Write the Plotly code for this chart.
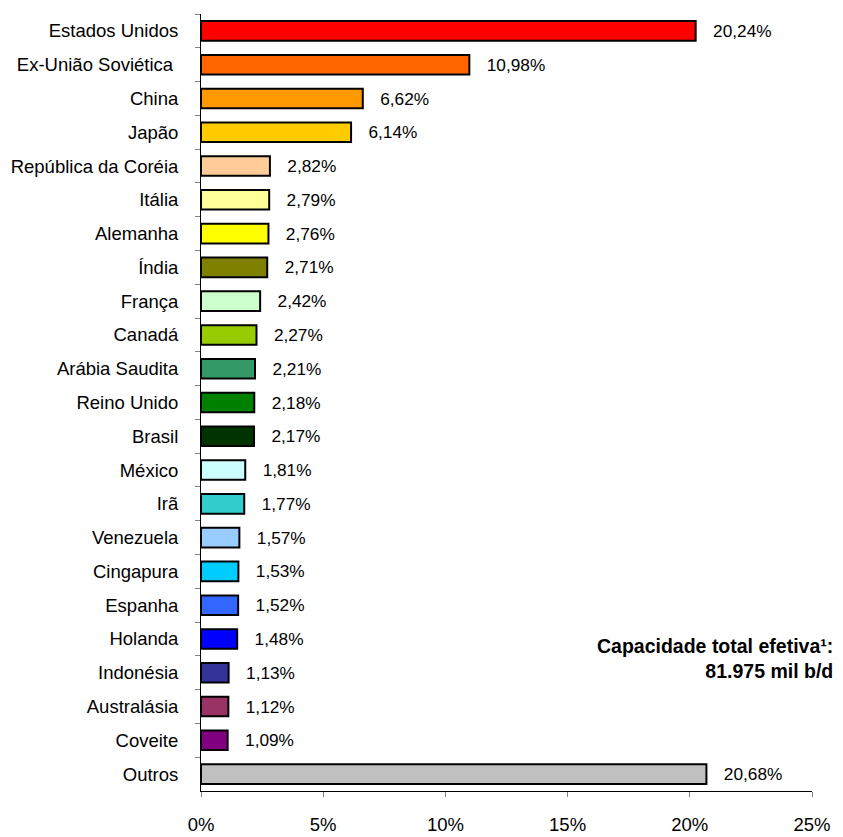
import plotly.graph_objects as go

categories = ["Estados Unidos", "Ex-União Soviética ", "China", "Japão", "República da Coréia",
              "Itália", "Alemanha", "Índia", "França", "Canadá", "Arábia Saudita", "Reino Unido",
              "Brasil", "México", "Irã", "Venezuela", "Cingapura", "Espanha", "Holanda",
              "Indonésia", "Australásia", "Coveite", "Outros"]
values = [20.24, 10.98, 6.62, 6.14, 2.82, 2.79, 2.76, 2.71, 2.42, 2.27, 2.21, 2.18, 2.17,
          1.81, 1.77, 1.57, 1.53, 1.52, 1.48, 1.13, 1.12, 1.09, 20.68]
colors = ["#FF0000", "#FF6600", "#FF9900", "#FFCC00", "#FFCC99", "#FFFF99", "#FFFF00",
          "#808000", "#CCFFCC", "#99CC00", "#339966", "#008000", "#003300", "#CCFFFF",
          "#33CCCC", "#99CCFF", "#00CCFF", "#3366FF", "#0000FF", "#333399", "#993366",
          "#800080", "#C0C0C0"]
labels = [f"{v:.2f}".replace(".", ",") + "%" for v in values]
x_ticks = [0, 5, 10, 15, 20, 25]
x_tick_labels = ["0%", "5%", "10%", "15%", "20%", "25%"]

FONT = "Liberation Sans, Arial, sans-serif"
FS = 18.5

fig = go.Figure()
fig.add_trace(go.Bar(
    x=values, y=categories, orientation="h",
    marker=dict(color=colors, line=dict(color="black", width=2)),
    width=0.58,
    text=["   " + t for t in labels], textposition="outside",
    textfont=dict(family=FONT, size=FS, color="black"),
    cliponaxis=False, hoverinfo="skip",
))

fig.add_annotation(
    x=1.037, y=0.171, xref="paper", yref="paper", xanchor="right", yanchor="middle",
    text="<b>Capacidade total efetiva¹:<br>81.975 mil b/d</b>", align="right",
    showarrow=False, font=dict(family=FONT, size=19.5, color="black"),
)

fig.update_layout(
    width=843, height=837,
    margin=dict(l=193, r=39, t=6, b=54),
    paper_bgcolor="white", plot_bgcolor="white",
    showlegend=False,
    font=dict(family=FONT, size=FS, color="black"),
)
fig.update_xaxes(
    range=[0, 25], tickvals=x_ticks, ticktext=x_tick_labels,
    showgrid=False, zeroline=False, showline=True, linecolor="black", linewidth=1,
    ticks="outside", ticklen=5, tickcolor="#808080",
    ticklabelstandoff=12, automargin=False,
    tickfont=dict(family=FONT, size=FS, color="black"),
)
fig.update_yaxes(
    type="category", autorange="reversed",
    showgrid=False, zeroline=False, showline=True, linecolor="black", linewidth=1,
    ticks="outside", ticklen=5, tickcolor="#808080", tickson="boundaries",
    ticklabelstandoff=18, automargin=False,
    tickfont=dict(family=FONT, size=FS, color="black"),
)

fig.write_html("out.html")
